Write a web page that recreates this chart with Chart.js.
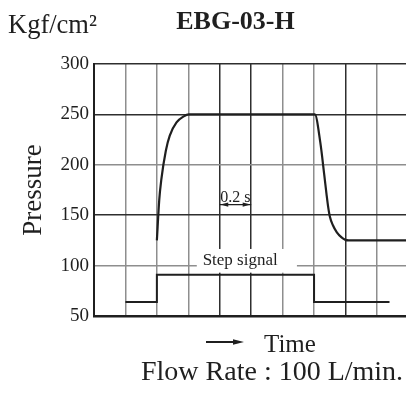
<!DOCTYPE html>
<html><head><meta charset="utf-8">
<script src="https://cdn.jsdelivr.net/npm/chart.js@4/dist/chart.umd.min.js"></script>
<style>html,body{margin:0;padding:0;background:#fff;overflow:hidden}#wrap{width:406px;height:394px}</style>
</head><body><div id="wrap"><canvas id="c" width="406" height="394"></canvas></div>
<script>
// ---- text ----
const chartTitle = 'EBG-03-H';
const unitLabel = 'Kgf/cm²';
const yTitle = 'Pressure';
const xTitle = 'Time';
const footNote = 'Flow Rate : 100 L/min.';
const signalLabel = 'Step signal';
const scaleLabel = '0.2 s';

// ---- data (x in seconds, y in kgf/cm²) ----
const pressureTime  = [0.400, 0.415, 0.428, 0.457, 0.482, 0.525, 0.571, 0.603, 1.405, 1.440, 1.465, 1.480, 1.490, 1.500, 1.520, 1.545, 1.575, 1.600, 1.620, 1.985];
const pressureValue = [125,   165,   185,   214,   229,   242,   248,   250,   250,   222,   190,   170,   158,   149,   140,   133,   128,   125.5, 125,   125];
const signalTime  = [0.2, 0.4, 0.4, 1.4, 1.4, 1.88];
const signalValue = [64,  64,  91,  91,  64,  64];
const yTickValues = [50, 100, 150, 200, 250, 300];

// ---- styling ----
const FONT = "'Liberation Serif', 'Times New Roman', serif";
const INK = '#1f1f1f';
const GRID_DARK = '#2e2e2e', GRID_LIGHT = '#8e8e8e';
const darkRows = [50, 75, 125, 150, 225, 250, 275, 300];
const darkCols = [0, 0.8, 1.0, 1.6];
const near = (arr, v) => arr.some(a => Math.abs(a - v) < 1e-6);

const annotations = {
  id: 'annotations',
  beforeDatasetsDraw(chart) {
    const {ctx, scales: {x, y}} = chart;
    // white box behind "Step signal"
    ctx.save();
    ctx.fillStyle = '#fff';
    const bx0 = x.getPixelForValue(0.654), bx1 = x.getPixelForValue(1.291);
    const by0 = y.getPixelForValue(116.5), by1 = y.getPixelForValue(93);
    ctx.fillRect(bx0, by0, bx1 - bx0, by1 - by0);
    ctx.fillStyle = INK;
    ctx.font = `17px ${FONT}`;
    ctx.textAlign = 'center';
    ctx.textBaseline = 'alphabetic';
    ctx.fillText(signalLabel, x.getPixelForValue(0.93), y.getPixelForValue(100.8));
    ctx.restore();
  },
  afterDraw(chart) {
    const {ctx, scales: {x, y}} = chart;
    ctx.save();
    ctx.fillStyle = INK;
    ctx.strokeStyle = INK;
    ctx.textBaseline = 'alphabetic';
    // title
    ctx.font = `bold 26px ${FONT}`;
    ctx.textAlign = 'center';
    ctx.fillText(chartTitle, 235.5, 28.5);
    // unit
    ctx.font = `26.5px ${FONT}`;
    ctx.textAlign = 'left';
    ctx.fillText(unitLabel, 8, 33);
    // 0.2 s dimension
    const d0 = x.getPixelForValue(0.8), d1 = x.getPixelForValue(1.0);
    const dy = y.getPixelForValue(160.5);
    ctx.font = `16px ${FONT}`;
    ctx.textAlign = 'center';
    ctx.fillText(scaleLabel, (d0 + d1) / 2, dy - 2.5);
    ctx.lineWidth = 1.3;
    ctx.beginPath(); ctx.moveTo(d0, dy); ctx.lineTo(d1, dy); ctx.stroke();
    const head = (px, dir) => { ctx.beginPath(); ctx.moveTo(px, dy); ctx.lineTo(px - dir * 8, dy - 2.2); ctx.lineTo(px - dir * 8, dy + 2.2); ctx.closePath(); ctx.fill(); };
    head(d0 + 0.5, -1); head(d1 - 0.5, 1);
    // Time arrow + label
    ctx.lineWidth = 2;
    ctx.beginPath(); ctx.moveTo(206, 342); ctx.lineTo(236, 342); ctx.stroke();
    ctx.beginPath(); ctx.moveTo(244, 342); ctx.lineTo(233, 339.3); ctx.lineTo(233, 344.7); ctx.closePath(); ctx.fill();
    ctx.font = `25px ${FONT}`;
    ctx.textAlign = 'left';
    ctx.fillText(xTitle, 264, 352);
    // footnote
    ctx.font = `28px ${FONT}`;
    ctx.textAlign = 'left';
    ctx.fillText(footNote, 141, 380);
    ctx.restore();
  }
};

new Chart(document.getElementById('c'), {
  type: 'line',
  data: {
    datasets: [
      { label: 'Pressure', data: pressureTime.map((t, i) => ({x: t, y: pressureValue[i]})),
        borderColor: INK, borderWidth: 2.2, pointRadius: 0, fill: false, cubicInterpolationMode: 'monotone' },
      { label: signalLabel, data: signalTime.map((t, i) => ({x: t, y: signalValue[i]})),
        borderColor: INK, borderWidth: 2, pointRadius: 0, fill: false, tension: 0 }
    ]
  },
  options: {
    responsive: false,
    animation: false,
    events: [],
    layout: { padding: { top: 64, left: 0, right: 0, bottom: 0 } },
    plugins: { legend: { display: false }, tooltip: { enabled: false }, title: { display: false } },
    scales: {
      x: {
        type: 'linear', min: 0, max: 1.985,
        ticks: { display: false, stepSize: 0.2, includeBounds: false },
        grid: { drawTicks: false, lineWidth: 1.5,
          color: c => near(darkCols, c.tick ? c.tick.value : -1) ? GRID_DARK : GRID_LIGHT },
        border: { display: true, color: INK, width: 2.5 },
        afterFit: s => { s.height = 78; }
      },
      y: {
        min: 50, max: 300,
        ticks: { stepSize: 25, padding: 5, color: INK, font: { family: FONT, size: 19 },
          callback: v => yTickValues.includes(v) ? String(v) : '' },
        grid: { drawTicks: false, lineWidth: 1.5,
          color: c => near(darkRows, c.tick ? c.tick.value : -1) ? GRID_DARK : GRID_LIGHT },
        border: { display: true, color: INK, width: 2 },
        title: { display: true, text: yTitle, color: INK, font: { family: FONT, size: 27 }, padding: { top: 18, bottom: 0 } },
        afterFit: s => { s.width = 94; }
      }
    }
  },
  plugins: [annotations]
});
</script>
</body></html>
